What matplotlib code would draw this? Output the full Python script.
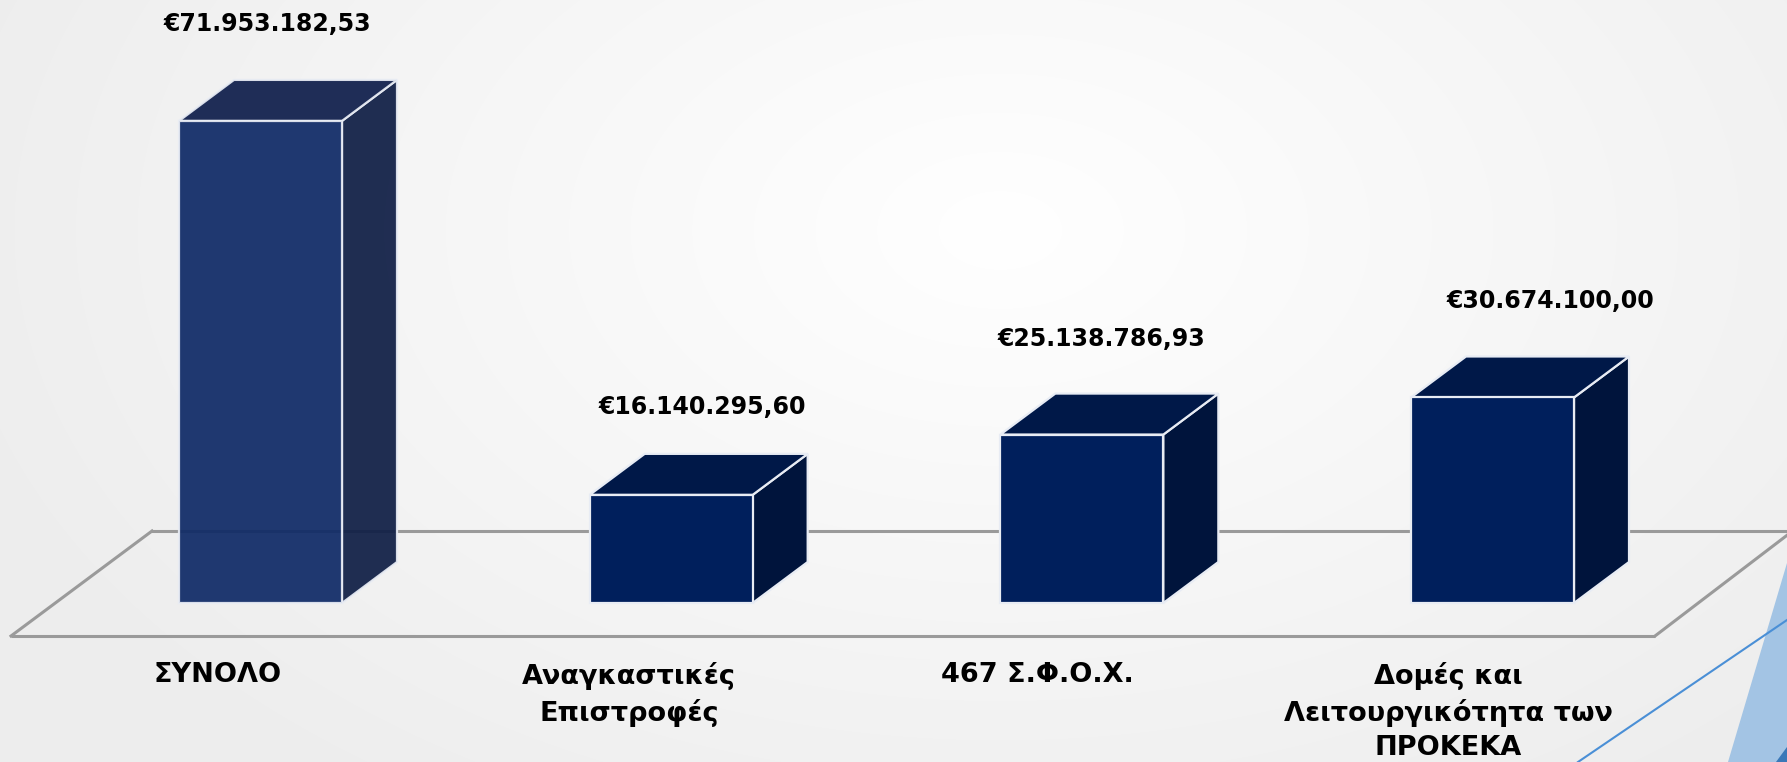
import numpy as np
import matplotlib
matplotlib.use("Agg")
import matplotlib.pyplot as plt
from matplotlib.patches import Polygon, Rectangle

# ---------------- data ----------------
categories = ["ΣΥΝΟΛΟ", "Αναγκαστικές\nΕπιστροφές", "467 Σ.Φ.Ο.Χ.",
              "Δομές και\nΛειτουργικότητα των\nΠΡΟΚΕΚΑ"]
values = [71953182.53, 16140295.60, 25138786.93, 30674100.00]
value_labels = ["€71.953.182,53", "€16.140.295,60", "€25.138.786,93", "€30.674.100,00"]

# ---------------- layout (pixel based) ----------------
W, H = 1787, 762
DPI = 100
PX_PER_X = 410.67          # pixels per category step
PX_PER_EUR = 6.70e-6       # pixels per euro
X0_PX = 260.5              # pixel x of first bar front centre
BASE_PX = 603              # pixel y (from top) of bar bottom

def px_x(px):
    return (px - X0_PX) / PX_PER_X

def px_y(py):
    return (BASE_PX - py) / PX_PER_EUR

bar_w = 163 / PX_PER_X
dx = 55 / PX_PER_X
dy = 41 / PX_PER_EUR

fig = plt.figure(figsize=(W / DPI, H / DPI), dpi=DPI)

# background radial gradient
bg = fig.add_axes([0, 0, 1, 1], zorder=0)
yy, xx = np.mgrid[0:H, 0:W]
r = np.sqrt(((xx - 1000) / 1100.0) ** 2 + ((yy - 230) / 700.0) ** 2)
r = np.clip(r, 0, 1)
lev = 1.0 - 0.07 * r
img = np.dstack([lev, lev, lev])
bg.imshow(img, extent=[0, W, H, 0], aspect="auto")
bg.set_xlim(0, W)
bg.set_ylim(H, 0)
bg.axis("off")

ax = fig.add_axes([0, 0, 1, 1], zorder=1)
ax.patch.set_alpha(0)
ax.set_xlim(px_x(0), px_x(W))
ax.set_ylim(px_y(H), px_y(0))
ax.axis("off")

# floor
floor_col = "#9a9a9a"
fy_back, fy_front = px_y(531), px_y(636)
ax.plot([px_x(11), px_x(1655)], [fy_front, fy_front], color=floor_col, lw=2.2, zorder=1, solid_capstyle="butt")
ax.plot([px_x(11), px_x(152)], [fy_front, fy_back], color=floor_col, lw=2.2, zorder=1)
ax.plot([px_x(152), px_x(W + 5)], [fy_back, fy_back], color=floor_col, lw=2.2, zorder=1)
ax.plot([px_x(1655), px_x(1790)], [fy_front, px_y(533)], color=floor_col, lw=2.2, zorder=1)

# bars
styles = [
    dict(front="#0f2a66", top="#0f1e4b", side="#0f1e45", alpha=0.93),
    dict(front="#001f5c", top="#001848", side="#00143c", alpha=1.0),
    dict(front="#001f5c", top="#001848", side="#00143c", alpha=1.0),
    dict(front="#001f5c", top="#001848", side="#00143c", alpha=1.0),
]
value_off_px = [(7, 56), (31, 47), (20, 55), (58, 55)]
for i, (v, st) in enumerate(zip(values, styles)):
    xl, xr = i - bar_w / 2, i + bar_w / 2
    ec = "#e8ecf4"
    side = Polygon([(xr, 0), (xr + dx, dy), (xr + dx, v + dy), (xr, v)], closed=True,
                   facecolor=st["side"], edgecolor=ec, lw=1.6, alpha=st["alpha"], zorder=3)
    top = Polygon([(xl, v), (xr, v), (xr + dx, v + dy), (xl + dx, v + dy)], closed=True,
                  facecolor=st["top"], edgecolor=ec, lw=1.6, alpha=st["alpha"], zorder=3)
    front = Rectangle((xl, 0), bar_w, v, facecolor=st["front"], edgecolor=ec, lw=1.6,
                      alpha=st["alpha"], zorder=4)
    for p in (side, top, front):
        ax.add_patch(p)
    ox, oy = value_off_px[i]
    ax.text(i + ox / PX_PER_X, v + dy + oy / PX_PER_EUR, value_labels[i],
            ha="center", va="center", fontsize=17, fontweight="bold",
            color="#000000", family="DejaVu Sans", zorder=6)

label_offsets_px = [-43, -42, -44, -44]
for i, lab in enumerate(categories):
    ax.text(i + label_offsets_px[i] / PX_PER_X, px_y(662), lab, ha="center", va="top",
            fontsize=19.5, fontweight="bold", color="#000000", family="DejaVu Sans",
            linespacing=1.41, zorder=6)

# decoration bottom right (figure pixel coords)
deco = fig.add_axes([0, 0, 1, 1], zorder=2)
deco.set_xlim(0, W)
deco.set_ylim(H, 0)
deco.axis("off")
deco.patch.set_alpha(0)
deco.add_patch(Polygon([(1728, H), (W, 563), (W, H)], closed=True, facecolor="#a3c4e4",
                       edgecolor="none"))
deco.add_patch(Polygon([(1776, H), (W, 747), (W, H)], closed=True, facecolor="#3a78b8",
                       edgecolor="none"))
deco.plot([1578, W], [H, 620], color="#4a8fd6", lw=1.5)

fig.savefig("out.png", dpi=DPI)
